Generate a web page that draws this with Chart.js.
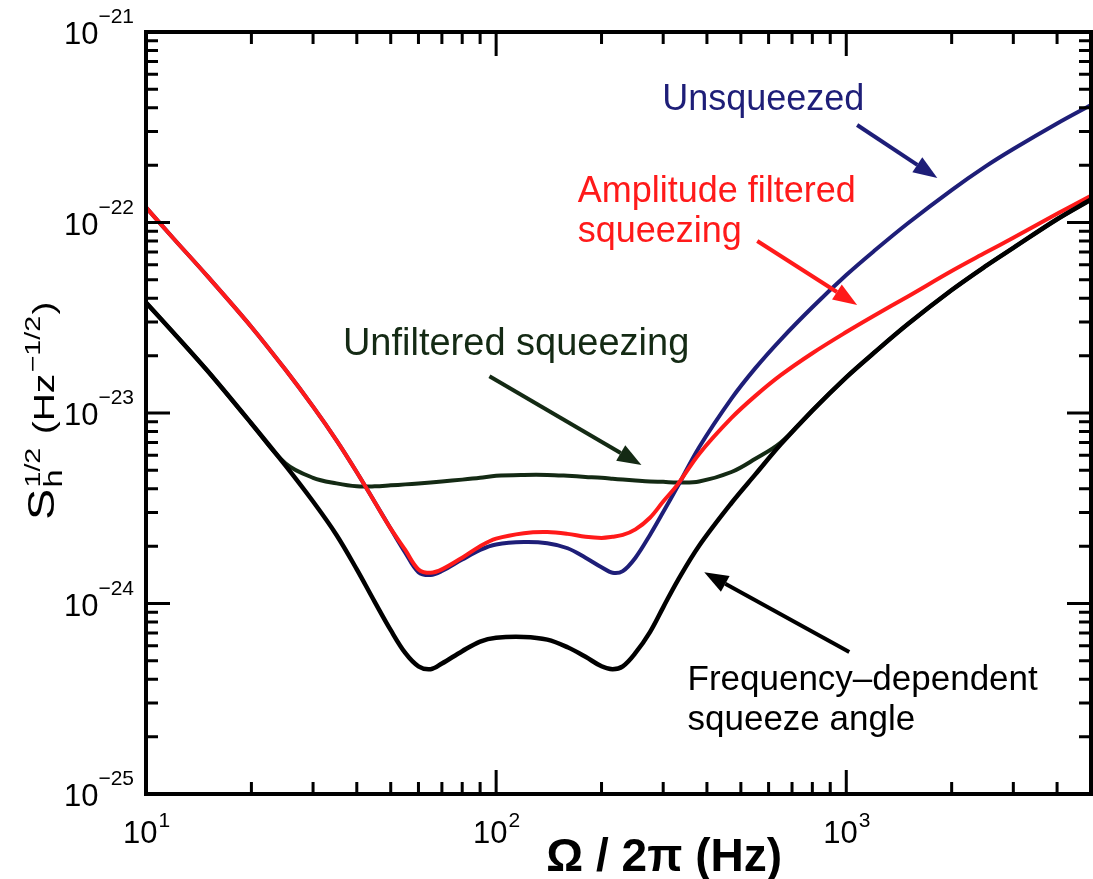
<!DOCTYPE html>
<html>
<head>
<meta charset="utf-8">
<script src="https://cdn.jsdelivr.net/npm/chart.js@4.4.1/dist/chart.umd.min.js"></script>
<style>
  body { margin: 0; background: #fff; }
  #chart { display: block; }
</style>
</head>
<body>
<canvas id="chart" width="1093" height="879"></canvas>
<script>
// frequency grid (Hz)
const freq = [10, 12, 15, 20, 25, 30, 35, 40, 45, 50, 55, 60, 65, 70, 80, 90, 100, 120, 140, 160, 180,
  200, 215, 230, 250, 275, 300, 330, 380, 470, 550, 650, 800, 1000, 1200, 1500, 2000, 2500, 3000, 4000, 5000];

// strain noise S_h^1/2 (Hz^-1/2)
const freqDependent = [3.80e-23, 2.63e-23, 1.66e-23, 8.81e-24, 5.31e-24, 3.43e-24, 2.29e-24, 1.51e-24, 1.02e-24, 7.24e-25,
  5.50e-25, 4.68e-25, 4.52e-25, 4.84e-25, 5.62e-25, 6.31e-25, 6.61e-25, 6.68e-25, 6.46e-25, 5.89e-25, 5.25e-25,
  4.68e-25, 4.52e-25, 4.68e-25, 5.50e-25, 7.08e-25, 9.55e-25, 1.32e-24, 2.01e-24, 3.37e-24, 4.76e-24, 6.85e-24,
  1.03e-23, 1.54e-23, 2.07e-23, 2.93e-23, 4.42e-23, 5.90e-23, 7.36e-23, 1.04e-22, 1.32e-22];

const amplitudeFiltered = [1.20e-22, 8.22e-23, 5.21e-23, 2.83e-23, 1.69e-23, 1.08e-23, 7.19e-24, 4.89e-24, 3.41e-24, 2.47e-24,
  1.91e-24, 1.51e-24, 1.45e-24, 1.51e-24, 1.74e-24, 2.00e-24, 2.19e-24, 2.34e-24, 2.37e-24, 2.32e-24, 2.24e-24,
  2.21e-24, 2.24e-24, 2.29e-24, 2.45e-24, 2.82e-24, 3.43e-24, 4.22e-24, 6.10e-24, 9.42e-24, 1.23e-23, 1.58e-23,
  2.06e-23, 2.66e-23, 3.24e-23, 4.09e-23, 5.56e-23, 6.95e-23, 8.32e-23, 1.11e-22, 1.38e-22];

const unsqueezed = [1.20e-22, 8.22e-23, 5.21e-23, 2.83e-23, 1.69e-23, 1.08e-23, 7.19e-24, 4.89e-24, 3.41e-24, 2.47e-24,
  1.85e-24, 1.46e-24, 1.41e-24, 1.48e-24, 1.70e-24, 1.91e-24, 2.04e-24, 2.10e-24, 2.07e-24, 1.95e-24, 1.74e-24,
  1.55e-24, 1.45e-24, 1.48e-24, 1.74e-24, 2.29e-24, 3.02e-24, 4.12e-24, 6.61e-24, 1.19e-23, 1.72e-23, 2.43e-23,
  3.59e-23, 5.30e-23, 7.08e-23, 9.91e-23, 1.48e-22, 1.97e-22, 2.43e-22, 3.31e-22, 4.14e-22];

const unfiltered = [3.80e-23, 2.63e-23, 1.66e-23, 8.81e-24, 5.45e-24, 4.57e-24, 4.27e-24, 4.12e-24, 4.12e-24, 4.17e-24,
  4.22e-24, 4.27e-24, 4.32e-24, 4.37e-24, 4.47e-24, 4.57e-24, 4.68e-24, 4.73e-24, 4.73e-24, 4.68e-24, 4.62e-24,
  4.57e-24, 4.52e-24, 4.47e-24, 4.42e-24, 4.37e-24, 4.35e-24, 4.32e-24, 4.37e-24, 4.90e-24, 5.75e-24, 7.00e-24,
  1.03e-23, 1.54e-23, 2.07e-23, 2.93e-23, 4.42e-23, 5.90e-23, 7.36e-23, 1.04e-22, 1.32e-22];

// decade exponents used for tick labels
const xDecades = [1, 2, 3];
const yDecades = [-21, -22, -23, -24, -25];

// text labels with arrows, placed in data units
const notes = [
  { text: ['Unsqueezed'], color: '#1e1e78', at: [298, 3.9e-22], size: 36,
    from: [1074, 3.25e-22], to: [1820, 1.71e-22] },
  { text: ['Amplitude filtered', 'squeezing'], color: '#ff1a1a', at: [171, 1.28e-22], size: 36,
    from: [557, 8.0e-23], to: [1074, 3.69e-23] },
  { text: ['Unfiltered squeezing'], color: '#142a14', at: [36.5, 2.01e-23], size: 38,
    from: [95.7, 1.56e-23], to: [260, 5.33e-24] },
  { text: ['Frequency\u2013dependent', 'squeeze angle'], color: '#000', at: [352, 3.52e-25], size: 35,
    from: [1020, 5.56e-25], to: [393, 1.46e-24] }
];

const FONT = '"Liberation Sans", Arial, Helvetica, sans-serif';

function pts(vals) {
  return freq.map((f, i) => ({ x: f, y: vals[i] }));
}

function arrow(ctx, x1, y1, x2, y2, color) {
  const a = Math.atan2(y2 - y1, x2 - x1);
  const hl = 24, hw = 9;
  const bx = x2 - hl * Math.cos(a), by = y2 - hl * Math.sin(a);
  ctx.strokeStyle = color;
  ctx.fillStyle = color;
  ctx.lineWidth = 4;
  ctx.beginPath();
  ctx.moveTo(x1, y1);
  ctx.lineTo(bx, by);
  ctx.stroke();
  ctx.beginPath();
  ctx.moveTo(x2, y2);
  ctx.lineTo(bx + hw * Math.sin(a), by - hw * Math.cos(a));
  ctx.lineTo(bx - hw * Math.sin(a), by + hw * Math.cos(a));
  ctx.closePath();
  ctx.fill();
}

const framePlugin = {
  id: 'frame',
  beforeDraw(chart) {
    const ctx = chart.ctx;
    ctx.save();
    ctx.fillStyle = '#fff';
    ctx.fillRect(0, 0, chart.width, chart.height);
    ctx.restore();
  },
  afterDraw(chart) {
    const { ctx, chartArea: ca, scales: { x, y } } = chart;
    ctx.save();

    // ticks, pointing inwards on all four sides
    ctx.strokeStyle = '#000';
    ctx.lineWidth = 3;
    ctx.beginPath();
    for (let k = 1; k <= 3; k++) {
      for (let m = 1; m <= 9; m++) {
        const v = m * Math.pow(10, k);
        if (v < 10 || v > 5000) continue;
        const px = x.getPixelForValue(v);
        const len = m === 1 ? 24 : 12;
        ctx.moveTo(px, ca.bottom); ctx.lineTo(px, ca.bottom - len);
        ctx.moveTo(px, ca.top); ctx.lineTo(px, ca.top + len);
      }
    }
    for (let k = -25; k <= -22; k++) {
      for (let m = 1; m <= 9; m++) {
        const py = y.getPixelForValue(m * Math.pow(10, k));
        const len = m === 1 ? 24 : 12;
        ctx.moveTo(ca.left, py); ctx.lineTo(ca.left + len, py);
        ctx.moveTo(ca.right, py); ctx.lineTo(ca.right - len, py);
      }
    }
    ctx.stroke();

    // frame
    ctx.lineWidth = 4;
    ctx.strokeRect(ca.left, ca.top, ca.right - ca.left, ca.bottom - ca.top);

    // tick labels with superscript exponents
    ctx.fillStyle = '#000';
    ctx.textBaseline = 'alphabetic';
    ctx.textAlign = 'left';
    const base = '31px ' + FONT, sup = '21px ' + FONT;
    yDecades.forEach(k => {
      const py = y.getPixelForValue(Math.pow(10, k));
      const e = '\u2212' + Math.abs(k);
      ctx.font = sup;
      const we = ctx.measureText(e).width;
      ctx.font = base;
      const wb = ctx.measureText('10').width;
      const right = ca.left - 12;
      ctx.fillText('10', right - we - wb, py + 12);
      ctx.font = sup;
      ctx.fillText(e, right - we, py - 9);
    });
    xDecades.forEach(k => {
      const px = x.getPixelForValue(Math.pow(10, k));
      const e = String(k);
      ctx.font = sup;
      const we = ctx.measureText(e).width;
      ctx.font = base;
      const wb = ctx.measureText('10').width;
      const start = px - (wb + we) / 2;
      ctx.fillText('10', start, ca.bottom + 49);
      ctx.font = sup;
      ctx.fillText(e, start + wb + 1, ca.bottom + 33);
    });

    // x axis title
    ctx.font = 'bold 46px ' + FONT;
    ctx.textAlign = 'right';
    ctx.fillText('\u03A9 / 2\u03C0 (Hz)', 782, ca.bottom + 77);

    // y axis title, rotated
    ctx.save();
    ctx.translate(54, 520);
    ctx.rotate(-Math.PI / 2);
    ctx.scale(1.3, 1);
    ctx.textAlign = 'left';
    let cx = 0;
    ctx.font = '36px ' + FONT;
    ctx.fillText('S', cx, 0);
    cx += ctx.measureText('S').width + 1;
    ctx.font = '22px ' + FONT;
    ctx.fillText('1/2', cx, -14);
    const w12 = ctx.measureText('1/2').width;
    ctx.font = '25px ' + FONT;
    ctx.fillText('h', cx, 8);
    cx += Math.max(w12, ctx.measureText('h').width) + 2;
    ctx.font = '30px ' + FONT;
    ctx.fillText(' (Hz', cx, 0);
    cx += ctx.measureText(' (Hz').width + 1;
    ctx.font = '22px ' + FONT;
    ctx.fillText('\u22121/2', cx, -14);
    cx += ctx.measureText('\u22121/2').width + 1;
    ctx.font = '30px ' + FONT;
    ctx.fillText(')', cx, 0);
    ctx.restore();

    // annotations
    notes.forEach(n => {
      ctx.font = n.size + 'px ' + FONT;
      ctx.fillStyle = n.color;
      ctx.textAlign = 'left';
      const tx = x.getPixelForValue(n.at[0]);
      const ty = y.getPixelForValue(n.at[1]);
      n.text.forEach((line, i) => ctx.fillText(line, tx, ty + i * 40));
      arrow(ctx, x.getPixelForValue(n.from[0]), y.getPixelForValue(n.from[1]),
        x.getPixelForValue(n.to[0]), y.getPixelForValue(n.to[1]), n.color);
    });

    ctx.restore();
  }
};

const ctx1 = document.getElementById('chart').getContext('2d');
const myChart = new Chart(ctx1, {
  type: 'line',
  data: {
    datasets: [
      { label: 'Frequency-dependent squeeze angle', data: pts(freqDependent), borderColor: '#000000', borderWidth: 4.5 },
      { label: 'Amplitude filtered squeezing', data: pts(amplitudeFiltered), borderColor: '#ff1a1a', borderWidth: 4 },
      { label: 'Unsqueezed', data: pts(unsqueezed), borderColor: '#1e1e78', borderWidth: 4 },
      { label: 'Unfiltered squeezing', data: pts(unfiltered), borderColor: '#142a14', borderWidth: 4 }
    ]
  },
  options: {
    responsive: false,
    animation: false,
    elements: {
      point: { radius: 0 },
      line: { tension: 0.35, fill: false, borderJoinStyle: 'round', borderCapStyle: 'round' }
    },
    layout: { padding: { left: 146, top: 32, right: 2, bottom: 85 } },
    plugins: { legend: { display: false }, tooltip: { enabled: false } },
    scales: {
      x: { type: 'logarithmic', min: 10, max: 5000, display: false },
      y: { type: 'logarithmic', min: 1e-25, max: 1e-21, display: false }
    }
  },
  plugins: [framePlugin]
});
</script>
</body>
</html>
